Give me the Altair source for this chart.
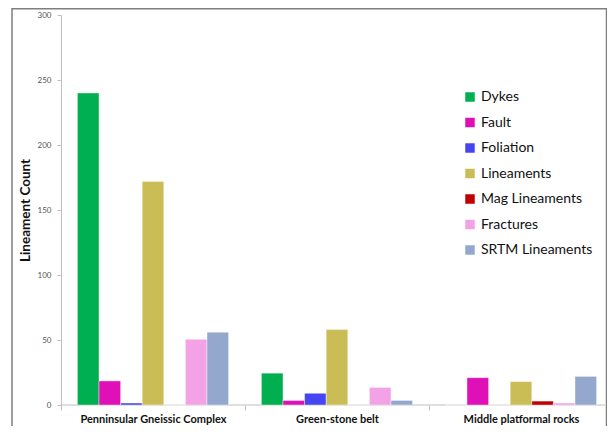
import altair as alt
import pandas as pd

groups = ["Penninsular Gneissic Complex", "Green-stone belt", "Middle platformal rocks"]
types = ["Dykes", "Fault", "Foliation", "Lineaments", "Mag Lineaments", "Fractures", "SRTM Lineaments"]
colors = ["#00B050", "#E010B8", "#4545F2", "#CBBD55", "#C00000", "#F4A2E6", "#94A8CE"]

pgc = [240, 18.5, 1.5, 172, 0, 50.5, 56]
gsb = [24.5, 3.5, 9, 58, 0, 13.5, 3.5]
mpr = [0, 21, 0, 18, 3, 1.5, 22]

rows = []
for g, vals in zip(groups, [pgc, gsb, mpr]):
    for t, v in zip(types, vals):
        rows.append({"group": g, "type": t, "value": v})
df = pd.DataFrame(rows)

FONT = "Lato"
W, H = 544, 390

bars = alt.Chart(df).mark_bar(stroke="white", strokeWidth=0.4).encode(
    x=alt.X("group:N", sort=groups, title=None,
            scale=alt.Scale(paddingInner=0, paddingOuter=0, range=[0, 552]),
            axis=alt.Axis(labelAngle=0, labelFont=FONT, labelFontSize=11, labelFontWeight="bold",
                          labelColor="#111111", domain=False, tickColor="#BFBFBF",
                          tickBand="extent", tickSize=5, labelPadding=3)),
    xOffset=alt.XOffset("type:N", sort=types,
                        scale=alt.Scale(paddingInner=0, paddingOuter=0.76)),
    y=alt.Y("value:Q", title="Lineament Count",
            scale=alt.Scale(domain=[0, 300], nice=False),
            axis=alt.Axis(values=[0, 50, 100, 150, 200, 250, 300], grid=False,
                          labelFont=FONT, labelFontSize=8, labelColor="#555555",
                          domainColor="#BFBFBF", tickColor="#BFBFBF", tickSize=4,
                          labelPadding=6,
                          titleFont=FONT, titleFontSize=13.5, titleFontWeight="bold",
                          titleColor="#111111", titlePadding=5)),
    color=alt.Color("type:N", sort=types,
                    scale=alt.Scale(domain=types, range=colors),
                    legend=alt.Legend(title=None, orient="none", legendX=402, legendY=75,
                                      symbolType="square", symbolSize=90, symbolStrokeWidth=0,
                                      labelFont=FONT, labelFontSize=14, labelColor="#111111",
                                      rowPadding=11.5, labelOffset=4)),
)

baseline = alt.Chart(alt.Data(values=[{}])).mark_rule(
    color="#BFBFBF", strokeWidth=1
).encode(x=alt.value(0), x2=alt.value(544), y=alt.value(H))

frame = alt.Chart(alt.Data(values=[{}])).mark_rect(
    fill=None, stroke="#7F7F7F", strokeWidth=1.5
).encode(
    x=alt.value(-49), x2=alt.value(545.5), y=alt.value(-6.2), y2=alt.value(440)
)

chart = alt.layer(frame, baseline, bars).properties(
    width=W, height=H,
    autosize=alt.AutoSizeParams(type="none"),
    padding={"left": 53, "top": 7, "right": 2, "bottom": 21},
).configure_view(stroke=None)

chart.save("out.html", embed_options={"renderer": "svg", "actions": False})
